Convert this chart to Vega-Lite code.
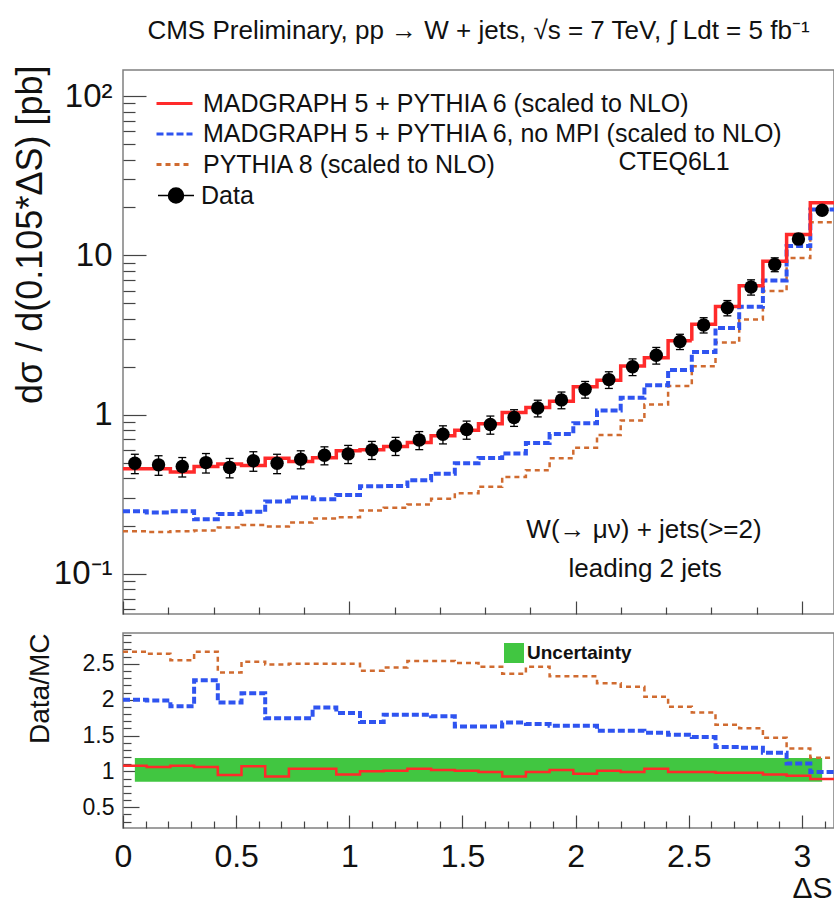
{
  "$schema": "https://vega.github.io/schema/vega-lite/v6.json",
  "background": "white",
  "padding": {"left": 11, "top": 18, "right": 0, "bottom": 0},
  "title": {"text": "CMS Preliminary,  pp → W + jets, √s = 7 TeV, ∫ Ldt = 5 fb⁻¹", "fontSize": 26, "fontWeight": "normal", "font": "Liberation Sans", "anchor": "middle", "offset": 20, "color": "#111", "frame": "group"},
  "spacing": 16,
  "resolve": {"scale": {"color": "independent", "strokeDash": "independent", "fill": "independent"}},
  "datasets": {
    "bins": [
      {"x": 0.0524, "d": 0.495, "lo": 0.426, "hi": 0.564, "blo": 0.855, "bhi": 1.185},
      {"x": 0.1571, "d": 0.484, "lo": 0.416, "hi": 0.552, "blo": 0.855, "bhi": 1.185},
      {"x": 0.2618, "d": 0.472, "lo": 0.406, "hi": 0.538, "blo": 0.855, "bhi": 1.185},
      {"x": 0.3665, "d": 0.5, "lo": 0.43, "hi": 0.57, "blo": 0.855, "bhi": 1.185},
      {"x": 0.4712, "d": 0.466, "lo": 0.401, "hi": 0.531, "blo": 0.855, "bhi": 1.185},
      {"x": 0.576, "d": 0.513, "lo": 0.441, "hi": 0.585, "blo": 0.855, "bhi": 1.185},
      {"x": 0.6807, "d": 0.495, "lo": 0.426, "hi": 0.564, "blo": 0.855, "bhi": 1.185},
      {"x": 0.7854, "d": 0.525, "lo": 0.457, "hi": 0.593, "blo": 0.855, "bhi": 1.185},
      {"x": 0.8901, "d": 0.556, "lo": 0.484, "hi": 0.628, "blo": 0.855, "bhi": 1.185},
      {"x": 0.9948, "d": 0.567, "lo": 0.493, "hi": 0.641, "blo": 0.855, "bhi": 1.185},
      {"x": 1.0996, "d": 0.601, "lo": 0.523, "hi": 0.679, "blo": 0.855, "bhi": 1.185},
      {"x": 1.2043, "d": 0.637, "lo": 0.554, "hi": 0.72, "blo": 0.855, "bhi": 1.185},
      {"x": 1.309, "d": 0.693, "lo": 0.603, "hi": 0.783, "blo": 0.855, "bhi": 1.185},
      {"x": 1.4137, "d": 0.753, "lo": 0.655, "hi": 0.851, "blo": 0.855, "bhi": 1.185},
      {"x": 1.5184, "d": 0.806, "lo": 0.701, "hi": 0.911, "blo": 0.855, "bhi": 1.185},
      {"x": 1.6232, "d": 0.867, "lo": 0.754, "hi": 0.98, "blo": 0.855, "bhi": 1.185},
      {"x": 1.7279, "d": 0.959, "lo": 0.844, "hi": 1.074, "blo": 0.855, "bhi": 1.185},
      {"x": 1.8326, "d": 1.1, "lo": 0.968, "hi": 1.232, "blo": 0.855, "bhi": 1.185},
      {"x": 1.9373, "d": 1.238, "lo": 1.089, "hi": 1.387, "blo": 0.855, "bhi": 1.185},
      {"x": 2.042, "d": 1.443, "lo": 1.27, "hi": 1.616, "blo": 0.855, "bhi": 1.185},
      {"x": 2.1468, "d": 1.66, "lo": 1.461, "hi": 1.859, "blo": 0.855, "bhi": 1.185},
      {"x": 2.2515, "d": 2.0, "lo": 1.76, "hi": 2.24, "blo": 0.855, "bhi": 1.185},
      {"x": 2.3562, "d": 2.36, "lo": 2.077, "hi": 2.643, "blo": 0.855, "bhi": 1.185},
      {"x": 2.4609, "d": 2.88, "lo": 2.563, "hi": 3.197, "blo": 0.855, "bhi": 1.185},
      {"x": 2.5656, "d": 3.66, "lo": 3.257, "hi": 4.063, "blo": 0.855, "bhi": 1.185},
      {"x": 2.6704, "d": 4.69, "lo": 4.174, "hi": 5.206, "blo": 0.855, "bhi": 1.185},
      {"x": 2.7751, "d": 6.33, "lo": 5.634, "hi": 7.026, "blo": 0.855, "bhi": 1.185},
      {"x": 2.8798, "d": 8.78, "lo": 7.902, "hi": 9.658, "blo": 0.855, "bhi": 1.185},
      {"x": 2.9845, "d": 12.7, "lo": 11.68, "hi": 13.72, "blo": 0.855, "bhi": 1.185},
      {"x": 3.0892, "d": 19.2, "lo": 18.05, "hi": 20.35, "blo": 0.855, "bhi": 1.185}
    ],
    "steps": [
      {"x": 0, "mg": 0.458, "nompi": 0.2475, "py8": 0.1854, "rmg": 1.08, "rnompi": 2.0, "rpy8": 2.67},
      {"x": 0.1047, "mg": 0.4566, "nompi": 0.2432, "py8": 0.1833, "rmg": 1.06, "rnompi": 1.99, "rpy8": 2.64},
      {"x": 0.2094, "mg": 0.437, "nompi": 0.2471, "py8": 0.1851, "rmg": 1.08, "rnompi": 1.91, "rpy8": 2.55},
      {"x": 0.3142, "mg": 0.4717, "nompi": 0.2203, "py8": 0.1873, "rmg": 1.06, "rnompi": 2.27, "rpy8": 2.67},
      {"x": 0.4189, "mg": 0.4905, "nompi": 0.2378, "py8": 0.1958, "rmg": 0.95, "rnompi": 1.96, "rpy8": 2.38},
      {"x": 0.5236, "mg": 0.4794, "nompi": 0.2455, "py8": 0.2028, "rmg": 1.07, "rnompi": 2.09, "rpy8": 2.53},
      {"x": 0.6283, "mg": 0.5323, "nompi": 0.2845, "py8": 0.1988, "rmg": 0.93, "rnompi": 1.74, "rpy8": 2.49},
      {"x": 0.733, "mg": 0.5072, "nompi": 0.3017, "py8": 0.21, "rmg": 1.035, "rnompi": 1.74, "rpy8": 2.5},
      {"x": 0.8378, "mg": 0.5372, "nompi": 0.2942, "py8": 0.2224, "rmg": 1.035, "rnompi": 1.89, "rpy8": 2.5},
      {"x": 0.9425, "mg": 0.5937, "nompi": 0.3124, "py8": 0.2268, "rmg": 0.955, "rnompi": 1.815, "rpy8": 2.5},
      {"x": 1.0472, "mg": 0.601, "nompi": 0.3556, "py8": 0.2499, "rmg": 1.0, "rnompi": 1.69, "rpy8": 2.405},
      {"x": 1.1519, "mg": 0.6307, "nompi": 0.3559, "py8": 0.26, "rmg": 1.01, "rnompi": 1.79, "rpy8": 2.45},
      {"x": 1.2566, "mg": 0.6696, "nompi": 0.3872, "py8": 0.2728, "rmg": 1.035, "rnompi": 1.79, "rpy8": 2.54},
      {"x": 1.3614, "mg": 0.7382, "nompi": 0.4254, "py8": 0.2965, "rmg": 1.02, "rnompi": 1.77, "rpy8": 2.54},
      {"x": 1.4661, "mg": 0.798, "nompi": 0.496, "py8": 0.3211, "rmg": 1.01, "rnompi": 1.625, "rpy8": 2.51},
      {"x": 1.5708, "mg": 0.8758, "nompi": 0.5335, "py8": 0.3524, "rmg": 0.99, "rnompi": 1.625, "rpy8": 2.46},
      {"x": 1.6755, "mg": 1.031, "nompi": 0.5708, "py8": 0.4064, "rmg": 0.93, "rnompi": 1.68, "rpy8": 2.36},
      {"x": 1.7802, "mg": 1.111, "nompi": 0.6627, "py8": 0.4472, "rmg": 0.99, "rnompi": 1.66, "rpy8": 2.46},
      {"x": 1.885, "mg": 1.2137, "nompi": 0.7572, "py8": 0.5325, "rmg": 1.02, "rnompi": 1.635, "rpy8": 2.325},
      {"x": 1.9897, "mg": 1.4953, "nompi": 0.8826, "py8": 0.6206, "rmg": 0.965, "rnompi": 1.635, "rpy8": 2.325},
      {"x": 2.0944, "mg": 1.6436, "nompi": 1.0607, "py8": 0.7444, "rmg": 1.01, "rnompi": 1.565, "rpy8": 2.23},
      {"x": 2.1991, "mg": 2.0202, "nompi": 1.278, "py8": 0.9174, "rmg": 0.99, "rnompi": 1.565, "rpy8": 2.18},
      {"x": 2.3038, "mg": 2.2802, "nompi": 1.5325, "py8": 1.1569, "rmg": 1.035, "rnompi": 1.54, "rpy8": 2.04},
      {"x": 2.4086, "mg": 2.9091, "nompi": 1.9073, "py8": 1.5158, "rmg": 0.99, "rnompi": 1.51, "rpy8": 1.9},
      {"x": 2.5133, "mg": 3.697, "nompi": 2.473, "py8": 2.011, "rmg": 0.99, "rnompi": 1.48, "rpy8": 1.82},
      {"x": 2.618, "mg": 4.7857, "nompi": 3.5, "py8": 2.8424, "rmg": 0.98, "rnompi": 1.34, "rpy8": 1.65},
      {"x": 2.7227, "mg": 6.459, "nompi": 4.759, "py8": 3.956, "rmg": 0.98, "rnompi": 1.33, "rpy8": 1.6},
      {"x": 2.8274, "mg": 9.194, "nompi": 6.968, "py8": 5.973, "rmg": 0.955, "rnompi": 1.26, "rpy8": 1.47},
      {"x": 2.9322, "mg": 13.51, "nompi": 11.44, "py8": 9.621, "rmg": 0.94, "rnompi": 1.11, "rpy8": 1.32},
      {"x": 3.0369, "mg": 21.45, "nompi": 19.39, "py8": 16.13, "rmg": 0.895, "rnompi": 0.99, "rpy8": 1.19},
      {"x": 3.1416, "mg": 21.45, "nompi": 19.39, "py8": 16.13, "rmg": 0.895, "rnompi": 0.99, "rpy8": 1.19}
    ]
  },
  "vconcat": [
    {
      "width": 711,
      "height": 544,
      "layer": [
        {
          "data": {"name": "steps"},
          "mark": {"type": "line", "interpolate": "step-after", "strokeWidth": 2.5},
          "encoding": {
            "x": {"field": "x", "type": "quantitative", "scale": {"domain": [0, 3.1416], "nice": false, "zero": false},
              "axis": {"labels": false, "title": null, "values": [0,0.1,0.2,0.3,0.4,0.5,0.6,0.7,0.8,0.9,1,1.1,1.2,1.3,1.4,1.5,1.6,1.7,1.8,1.9,2,2.1,2.2,2.3,2.4,2.5,2.6,2.7,2.8,2.9,3,3.1],
                "tickSize": {"condition": {"test": "abs(datum.value*2-round(datum.value*2))<1e-6", "value": -13}, "value": -7}}},
            "y": {"field": "py8", "type": "quantitative", "scale": {"type": "log", "domain": [0.056, 146], "nice": false},
              "axis": {"title": "dσ / d(0.105*ΔS) [pb]", "titleFontSize": 36, "titleX": -110, "titleY": -5, "titleAngle": 270, "titleAlign": "right", "titleBaseline": "top",
                "values": [0.06,0.07,0.08,0.09,0.1,0.2,0.3,0.4,0.5,0.6,0.7,0.8,0.9,1,2,3,4,5,6,7,8,9,10,20,30,40,50,60,70,80,90,100],
                "tickSize": {"condition": {"test": "datum.value==0.1||datum.value==1||datum.value==10||datum.value==100", "value": -23}, "value": -12},
                "labelExpr": "datum.value==100?'10²':datum.value==10?'10':datum.value==1?'1':datum.value==0.1?'10⁻¹':''",
                "labelFontSize": {"condition": {"test": "datum.value==0.1||datum.value==1||datum.value==10||datum.value==100", "value": 33}, "value": 1},
                "labelPadding": 34, "labelBaseline": "middle", "labelOverlap": false}},
            "color": {"datum": "PYTHIA 8 (scaled to NLO)", "scale": {"domain": ["MADGRAPH 5 + PYTHIA 6 (scaled to NLO)", "MADGRAPH 5 + PYTHIA 6, no MPI (scaled to NLO)", "PYTHIA 8 (scaled to NLO)"], "range": ["#ff2a2a", "#2f54f0", "#d06b30"]},
              "legend": {"title": null, "orient": "none", "legendX": 39, "legendY": 21, "symbolType": "M-2,0H2", "symbolSize": 324, "symbolStrokeWidth": 3, "symbolFillColor": "transparent", "labelFontSize": 25, "labelOffset": 16, "labelLimit": 0, "rowPadding": 4.5, "padding": 0, "labelColor": "#111"}},
            "strokeDash": {"datum": "PYTHIA 8 (scaled to NLO)", "scale": {"domain": ["MADGRAPH 5 + PYTHIA 6 (scaled to NLO)", "MADGRAPH 5 + PYTHIA 6, no MPI (scaled to NLO)", "PYTHIA 8 (scaled to NLO)"], "range": [[1, 0], [7, 3], [5, 4]]},
              "legend": {"title": null, "orient": "none", "legendX": 39, "legendY": 21, "symbolType": "M-2,0H2", "symbolSize": 324, "symbolStrokeWidth": 3, "symbolFillColor": "transparent", "labelFontSize": 25, "labelOffset": 16, "labelLimit": 0, "rowPadding": 4.5, "padding": 0, "labelColor": "#111"}}
          }
        },
        {
          "data": {"name": "steps"},
          "mark": {"type": "line", "interpolate": "step-after", "strokeWidth": 4},
          "encoding": {
            "x": {"field": "x", "type": "quantitative"},
            "y": {"field": "nompi", "type": "quantitative", "scale": {"type": "log", "domain": [0.056, 146], "nice": false}},
            "color": {"datum": "MADGRAPH 5 + PYTHIA 6, no MPI (scaled to NLO)"},
            "strokeDash": {"datum": "MADGRAPH 5 + PYTHIA 6, no MPI (scaled to NLO)"}
          }
        },
        {
          "data": {"name": "steps"},
          "mark": {"type": "line", "interpolate": "step-after", "strokeWidth": 3.5},
          "encoding": {
            "x": {"field": "x", "type": "quantitative"},
            "y": {"field": "mg", "type": "quantitative", "scale": {"type": "log", "domain": [0.056, 146], "nice": false}},
            "color": {"datum": "MADGRAPH 5 + PYTHIA 6 (scaled to NLO)"},
            "strokeDash": {"datum": "MADGRAPH 5 + PYTHIA 6 (scaled to NLO)"}
          }
        },
        {
          "data": {"name": "bins"},
          "mark": {"type": "rule", "color": "black", "strokeWidth": 1.3},
          "encoding": {
            "x": {"field": "x", "type": "quantitative"},
            "y": {"field": "lo", "type": "quantitative", "scale": {"type": "log", "domain": [0.056, 146], "nice": false}},
            "y2": {"field": "hi"}
          }
        },
        {
          "data": {"name": "bins"},
          "mark": {"type": "tick", "orient": "horizontal", "size": 8, "thickness": 1.3, "color": "black", "opacity": 1},
          "encoding": {
            "x": {"field": "x", "type": "quantitative"},
            "y": {"field": "lo", "type": "quantitative", "scale": {"type": "log", "domain": [0.056, 146], "nice": false}}
          }
        },
        {
          "data": {"name": "bins"},
          "mark": {"type": "tick", "orient": "horizontal", "size": 8, "thickness": 1.3, "color": "black", "opacity": 1},
          "encoding": {
            "x": {"field": "x", "type": "quantitative"},
            "y": {"field": "hi", "type": "quantitative", "scale": {"type": "log", "domain": [0.056, 146], "nice": false}}
          }
        },
        {
          "data": {"name": "bins"},
          "mark": {"type": "point", "filled": true, "shape": "circle", "size": 180, "opacity": 1},
          "encoding": {
            "x": {"field": "x", "type": "quantitative"},
            "y": {"field": "d", "type": "quantitative", "scale": {"type": "log", "domain": [0.056, 146], "nice": false}},
            "fill": {"datum": "Data", "scale": {"domain": ["Data"], "range": ["black"]},
              "legend": {"title": null, "orient": "none", "legendX": 40.5, "legendY": 113, "symbolType": "M-2.4,0H-1M1,0H2.4M-1,0A1,1,0,1,0,1,0A1,1,0,1,0,-1,0Z", "symbolSize": 225, "symbolStrokeColor": "black", "symbolStrokeWidth": 1.5, "symbolFillColor": "black", "labelFontSize": 25, "labelOffset": 12.5, "labelLimit": 0, "padding": 0, "labelColor": "#111"}}
          }
        },
        {
          "data": {"values": [{}]},
          "mark": {"type": "text", "fontSize": 25, "color": "#111", "align": "center", "baseline": "middle"},
          "encoding": {
            "x": {"datum": 2.435, "type": "quantitative"},
            "y": {"datum": 38.5, "type": "quantitative"},
            "text": {"value": "CTEQ6L1"}
          }
        },
        {
          "data": {"values": [{}]},
          "mark": {"type": "text", "fontSize": 26, "color": "#111", "align": "center", "baseline": "middle"},
          "encoding": {
            "x": {"datum": 2.302, "type": "quantitative"},
            "y": {"datum": 0.19, "type": "quantitative"},
            "text": {"value": "W(→ μν) + jets(>=2)"}
          }
        },
        {
          "data": {"values": [{}]},
          "mark": {"type": "text", "fontSize": 26, "color": "#111", "align": "center", "baseline": "middle"},
          "encoding": {
            "x": {"datum": 2.307, "type": "quantitative"},
            "y": {"datum": 0.108, "type": "quantitative"},
            "text": {"value": "leading 2 jets"}
          }
        }
      ]
    },
    {
      "width": 711,
      "height": 195,
      "resolve": {"axis": {"x": "independent", "y": "independent"}},
      "layer": [
        {
          "data": {"name": "bins"},
          "mark": {"type": "area", "opacity": 1},
          "encoding": {
            "x": {"field": "x", "type": "quantitative", "scale": {"domain": [0, 3.1416], "nice": false, "zero": false},
              "axis": {"orient": "bottom", "title": "ΔS", "titleFontSize": 30, "titleX": 709, "titleY": 60, "titleAlign": "right", "titleBaseline": "middle", "titleAngle": 0,
                "values": [0, 0.5, 1, 1.5, 2, 2.5, 3], "tickSize": -13,
                "labelExpr": "'' + datum.value",
                "labelFontSize": 32, "labelPadding": 26, "labelFlush": false, "labelOverlap": false, "labelBaseline": "top"}},
            "y": {"field": "blo", "type": "quantitative", "scale": {"domain": [0.21, 2.93], "nice": false, "zero": false},
              "axis": {"orient": "left", "title": "Data/MC", "titleFontSize": 28, "titleX": -97, "titleY": 0, "titleAngle": 270, "titleAlign": "right", "titleBaseline": "top",
                "values": [0.5, 1, 1.5, 2, 2.5], "tickSize": -16,
                "labelExpr": "'' + datum.value",
                "labelFontSize": 23, "labelPadding": 25, "labelBaseline": "middle", "labelOverlap": false}},
            "y2": {"field": "bhi"},
            "fill": {"datum": "Uncertainty", "scale": {"domain": ["Uncertainty"], "range": ["#41c641"]},
              "legend": {"title": null, "orient": "none", "legendX": 381, "legendY": 10, "symbolType": "square", "symbolSize": 400, "symbolStrokeWidth": 0, "labelFontSize": 19, "labelFontWeight": "bold", "labelOffset": 3, "labelLimit": 0, "padding": 0, "labelColor": "#111"}}
          }
        },
        {
          "data": {"name": "steps"},
          "mark": {"type": "line", "interpolate": "step-after", "strokeWidth": 2.5, "color": "#d06b30", "strokeDash": [5, 4]},
          "encoding": {
            "x": {"field": "x", "type": "quantitative", "axis": null},
            "y": {"field": "rpy8", "type": "quantitative", "scale": {"domain": [0.21, 2.93], "nice": false, "zero": false}, "axis": null}
          }
        },
        {
          "data": {"name": "steps"},
          "mark": {"type": "line", "interpolate": "step-after", "strokeWidth": 4, "color": "#2f54f0", "strokeDash": [7, 3]},
          "encoding": {
            "x": {"field": "x", "type": "quantitative", "axis": null},
            "y": {"field": "rnompi", "type": "quantitative", "scale": {"domain": [0.21, 2.93], "nice": false, "zero": false}, "axis": null}
          }
        },
        {
          "data": {"name": "steps"},
          "mark": {"type": "line", "interpolate": "step-after", "strokeWidth": 2.5, "color": "#ff2a2a"},
          "encoding": {
            "x": {"field": "x", "type": "quantitative",
              "axis": {"orient": "bottom", "title": null, "labels": false, "tickSize": -7,
                "values": [0.1,0.2,0.3,0.4,0.6,0.7,0.8,0.9,1.1,1.2,1.3,1.4,1.6,1.7,1.8,1.9,2.1,2.2,2.3,2.4,2.6,2.7,2.8,2.9,3.1]}},
            "y": {"field": "rmg", "type": "quantitative", "scale": {"domain": [0.21, 2.93], "nice": false, "zero": false},
              "axis": {"orient": "left", "title": null, "labels": false, "tickSize": -8,
                "values": [0.3,0.4,0.6,0.7,0.8,0.9,1.1,1.2,1.3,1.4,1.6,1.7,1.8,1.9,2.1,2.2,2.3,2.4,2.6,2.7,2.8,2.9]}}
          }
        }
      ]
    }
  ],
  "config": {
    "font": "Liberation Sans",
    "view": {"stroke": "#808080", "strokeWidth": 1.5},
    "axis": {"domain": false, "grid": false, "tickColor": "#444", "tickWidth": 1.2, "labelColor": "#111", "titleColor": "#111", "titleFontWeight": "normal", "labelFont": "Liberation Sans", "titleFont": "Liberation Sans"},
    "legend": {"labelFont": "Liberation Sans"}
  }
}
